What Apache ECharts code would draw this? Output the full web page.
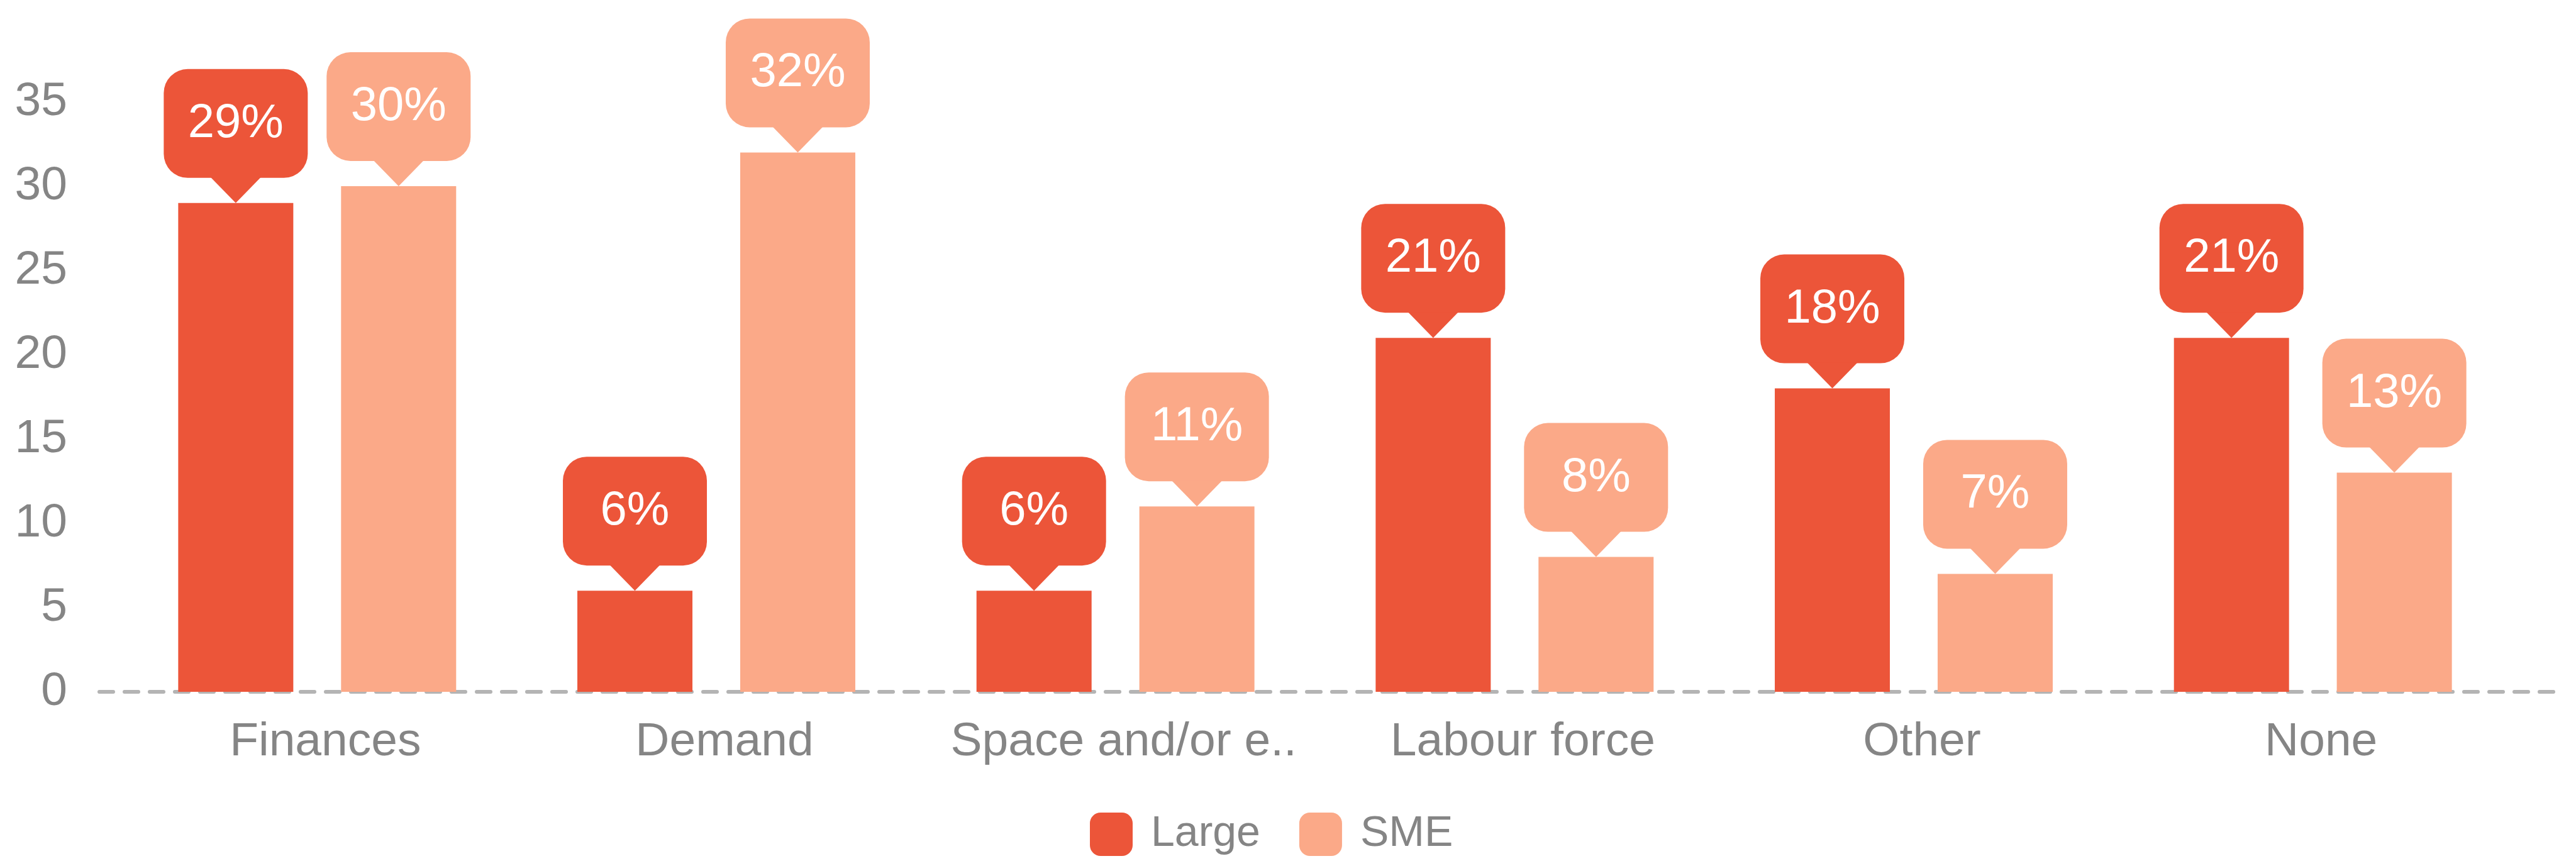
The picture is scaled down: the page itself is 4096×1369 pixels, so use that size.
<!DOCTYPE html>
<html>
<head>
<meta charset="utf-8">
<title>Barriers by company size</title>
<script src="https://cdn.jsdelivr.net/npm/echarts@6/dist/echarts.min.js"></script>
<style>
  html, body { margin: 0; padding: 0; background: #ffffff; }
  #chart { width: 4096px; height: 1369px; }
</style>
</head>
<body>
<div id="chart"></div>
<script>
// Categories and the share (%) of firms in each size group
const categories = ['Finances', 'Demand', 'Space and/or e..', 'Labour force', 'Other', 'None'];
const largeValues = [29, 6, 6, 21, 18, 21];
const smeValues = [30, 32, 11, 8, 7, 13];
const seriesNames = ['Large', 'SME'];
const yMin = 0;
const yMax = 35;
const yStep = 5;

const COLORS = { large: '#EC5539', sme: '#FBA988' };
const FONT = '"Liberation Sans", Arial, Helvetica, sans-serif';
const TEXT_GREY = '#858585';

const BAR_W = 183;
const BAR_GAP = '41.5%';
const BAR_SHIFT = 129.5;      // half of (bar width + gap) in px
const PTR_W = 80, PTR_H = 41; // callout pointer
const BOX_W = 229, LABEL_FS = 76;

const gridTop = 162, gridBottom = 269;

function calloutLabel(color) {
  return {
    show: true,
    position: 'top',
    distance: 40,
    formatter: '{c}%',
    color: '#ffffff',
    fontFamily: FONT,
    fontSize: LABEL_FS,
    lineHeight: LABEL_FS,
    backgroundColor: color,
    borderRadius: 38,
    width: BOX_W,
    align: 'center',
    padding: [49, 0, 48, 0]
  };
}

function pointer(name, values, color, shift) {
  return {
    name: name,
    type: 'scatter',
    data: values,
    silent: true,
    symbol: 'path://M0,0 L80,0 L40,41 Z',
    symbolKeepAspect: false,
    symbolSize: [PTR_W, PTR_H],
    symbolOffset: [shift, -PTR_H / 2],
    itemStyle: { color: color, opacity: 1 },
    z: 3
  };
}

const chart = echarts.init(document.getElementById('chart'), null, { renderer: 'canvas' });

chart.setOption({
  animation: false,
  backgroundColor: '#ffffff',
  textStyle: { fontFamily: FONT },
  legend: {
    data: seriesNames,
    left: 1728,
    top: 1287,
    icon: 'roundRect',
    itemWidth: 68,
    itemHeight: 69,
    itemGap: 62,
    itemStyle: { borderRadius: 8 },
    textStyle: {
      color: TEXT_GREY,
      fontFamily: FONT,
      fontSize: 68,
      padding: [0, 0, 0, 24]
    }
  },
  grid: [
    { left: 187, right: 101, top: gridTop, bottom: gridBottom },
    { left: 158, right: 36, top: gridTop, bottom: gridBottom }
  ],
  xAxis: [
    {
      type: 'category',
      data: categories,
      gridIndex: 0,
      axisLine: { show: false },
      axisTick: { show: false },
      axisLabel: {
        interval: 0,
        color: TEXT_GREY,
        fontFamily: FONT,
        fontSize: 75,
        margin: 43,
        padding: [0, 0, 0, 26]
      }
    },
    {
      // dashed baseline across the full plot width
      type: 'value',
      gridIndex: 1,
      min: 0,
      max: 1,
      axisLine: {
        show: true,
        lineStyle: { color: '#B4B4B4', width: 6, type: [22, 18] }
      },
      axisTick: { show: false },
      axisLabel: { show: false },
      splitLine: { show: false }
    }
  ],
  yAxis: [
    {
      type: 'value',
      gridIndex: 0,
      min: yMin,
      max: yMax,
      interval: yStep,
      axisLine: { show: false },
      axisTick: { show: false },
      splitLine: { show: false },
      axisLabel: {
        color: TEXT_GREY,
        fontFamily: FONT,
        fontSize: 75,
        margin: 80
      }
    },
    {
      type: 'value',
      gridIndex: 1,
      min: 0,
      max: 1,
      show: false
    }
  ],
  series: [
    {
      name: seriesNames[0],
      type: 'bar',
      data: largeValues,
      barWidth: BAR_W,
      barGap: BAR_GAP,
      itemStyle: { color: COLORS.large },
      label: calloutLabel(COLORS.large),
      z: 2
    },
    {
      name: seriesNames[1],
      type: 'bar',
      data: smeValues,
      barWidth: BAR_W,
      barGap: BAR_GAP,
      itemStyle: { color: COLORS.sme },
      label: calloutLabel(COLORS.sme),
      z: 2
    },
    pointer(seriesNames[0], largeValues, COLORS.large, -BAR_SHIFT),
    pointer(seriesNames[1], smeValues, COLORS.sme, BAR_SHIFT)
  ]
});
</script>
</body>
</html>
